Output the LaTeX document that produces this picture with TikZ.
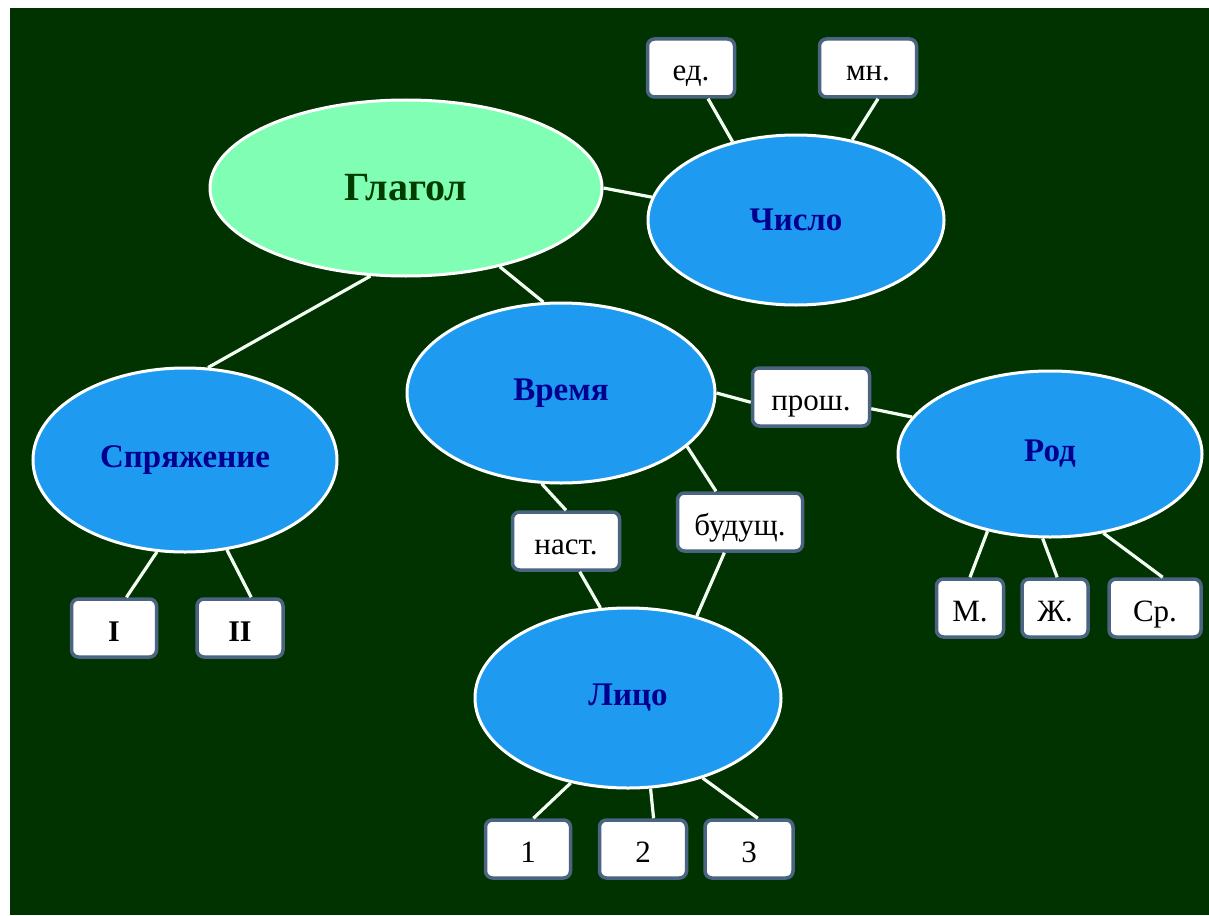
\documentclass[tikz,border=0pt]{standalone}
\usepackage{fontspec}
\setmainfont{Liberation Serif}
\usetikzlibrary{shapes.geometric}
\definecolor{boardgreen}{HTML}{003300}
\definecolor{verbfill}{HTML}{80FFB4}
\definecolor{verbtext}{HTML}{003B00}
\definecolor{catfill}{HTML}{1E9BF0}
\definecolor{cattext}{HTML}{00008F}
\definecolor{boxedge}{HTML}{4B6482}
\definecolor{linkwhite}{HTML}{F4FFF4}
\tikzset{
	cat/.style={ellipse, draw=white, line width=3pt, fill=catfill, text=cattext, inner sep=0pt, font=\fontsize{33}{36}\selectfont\bfseries},
	val/.style={rectangle, rounded corners=7pt, draw=boxedge, line width=3.5pt, fill=white, text=black, minimum height=58pt, inner sep=0pt, text height=30pt, text depth=4pt, font=\fontsize{31}{34}\selectfont},
	link/.style={draw=linkwhite, line width=3.2pt},
}

\begin{document}
\begin{tikzpicture}[x=1pt, y=-1pt]
	\useasboundingbox (0,0) rectangle (1209,915);
	\fill[boardgreen] (10,8) rectangle (1209,915);

	\node[cat, fill=verbfill, text=verbtext, minimum width=392pt, minimum height=176pt, font=\fontsize{40}{43}\selectfont\bfseries] (glagol) at (406,188) {Глагол};
	\node[cat, minimum width=296pt, minimum height=170pt] (chislo) at (796,220) {Число};
	\node[cat, minimum width=308pt, minimum height=180pt] (vremya) at (561,393) {Время};
	\node[cat, minimum width=304pt, minimum height=184pt] (spr) at (185,460) {Спряжение};
	\node[cat, minimum width=304pt, minimum height=166pt] (rod) at (1050,454) {Род};
	\node[cat, minimum width=306pt, minimum height=180pt] (lico) at (628,698) {Лицо};

	\node[val, minimum width=87pt] (ed) at (691,68) {ед.};
	\node[val, minimum width=97pt] (mn) at (868,68) {мн.};
	\node[val, minimum width=117pt] (prosh) at (811,397) {прош.};
	\node[val, minimum width=107pt] (nast) at (566,541) {наст.};
	\node[val, minimum width=125pt] (bud) at (740,522) {будущ.};
	\node[val, minimum width=85pt, font=\fontsize{30}{33}\selectfont\bfseries] (one) at (114,628) {I};
	\node[val, minimum width=86pt, font=\fontsize{30}{33}\selectfont\bfseries] (two) at (240,628) {II};
	\node[val, minimum width=67pt] (m) at (970,608) {М.};
	\node[val, minimum width=66pt] (zh) at (1055,608) {Ж.};
	\node[val, minimum width=92pt] (sr) at (1155,608) {Ср.};
	\node[val, minimum width=85pt] (p1) at (528,849) {1};
	\node[val, minimum width=87pt] (p2) at (643,849) {2};
	\node[val, minimum width=88pt] (p3) at (749,849) {3};

	\draw[link] (glagol.east) -- (chislo.171);
	\draw[link] (ed.299) -- (chislo.129);
	\draw[link] (mn.288) -- (chislo.55);
	\draw[link] (glagol.248) -- (spr.76);
	\draw[link] (glagol.320) -- (vremya.101);
	\draw[link] (vremya.east) -- (prosh.185);
	\draw[link] (prosh.349) -- (rod.165);
	\draw[link] (vremya.258) -- (nast.north);
	\draw[link] (vremya.337) -- (bud.128);
	\draw[link] (nast.294) -- (lico.107);
	\draw[link] (bud.243) -- (lico.50);
	\draw[link] (spr.253) -- (one.68);
	\draw[link] (spr.295) -- (two.70);
	\draw[link] (rod.231) -- (m.north);
	\draw[link] (rod.265) -- (zh.86);
	\draw[link] (rod.304) -- (sr.76);
	\draw[link] (lico.236) -- (p1.80);
	\draw[link] (lico.284) -- (p2.71);
	\draw[link] (lico.313) -- (p3.74);
\end{tikzpicture}
\end{document}
